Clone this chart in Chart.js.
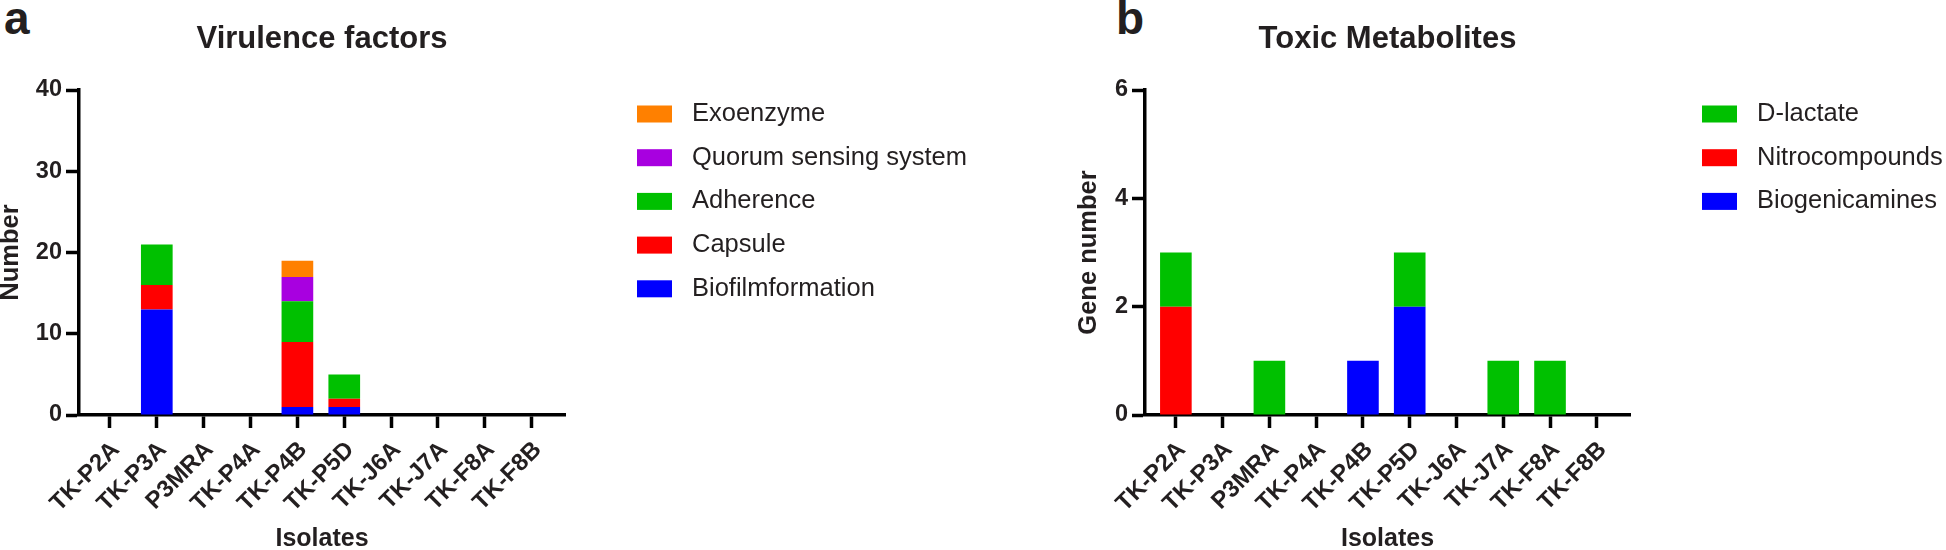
<!DOCTYPE html>
<html>
<head>
<meta charset="utf-8">
<script src="https://cdn.jsdelivr.net/npm/chart.js@4/dist/chart.umd.min.js"></script>
<style>
  body { margin: 0; background: #fff; width: 1946px; height: 550px; position: relative; overflow: hidden; }
  canvas { position: absolute; top: 0; }
  #chartA { left: 0; }
  #chartB { left: 973px; }
  .panel { position: absolute; top: -5px; font: bold 46px "Liberation Sans", Arial, sans-serif; line-height: 46px; color: #231f20; }
</style>
</head>
<body>
<div class="panel" style="left:4px">a</div>
<div class="panel" style="left:1116px">b</div>
<canvas id="chartA" width="1000" height="550"></canvas>
<canvas id="chartB" width="973" height="550"></canvas>
<script>
const isolates = ['TK-P2A', 'TK-P3A', 'P3MRA', 'TK-P4A', 'TK-P4B', 'TK-P5D', 'TK-J6A', 'TK-J7A', 'TK-F8A', 'TK-F8B'];

// panel a, stacked bottom to top
const biofilm   = [0, 13, 0, 0, 1, 1, 0, 0, 0, 0];
const capsule   = [0, 3, 0, 0, 8, 1, 0, 0, 0, 0];
const adherence = [0, 5, 0, 0, 5, 3, 0, 0, 0, 0];
const quorum    = [0, 0, 0, 0, 3, 0, 0, 0, 0, 0];
const exoenzyme = [0, 0, 0, 0, 2, 0, 0, 0, 0, 0];
const ticksA = [0, 10, 20, 30, 40];

// panel b, stacked bottom to top
const biogenic = [0, 0, 0, 0, 1, 2, 0, 0, 0, 0];
const nitro    = [2, 0, 0, 0, 0, 0, 0, 0, 0, 0];
const dlactate = [1, 0, 1, 0, 0, 1, 0, 1, 1, 0];
const ticksB = [0, 2, 4, 6];

const FONT = '"Liberation Sans", Arial, Helvetica, sans-serif';
const INK = '#231f20';

const toPoints = arr => arr.map((v, i) => ({ x: i, y: v }));

// legend drawn to the right of the plot, top item = top of stack
const sideLegend = {
  id: 'sideLegend',
  afterDraw(chart) {
    const { ctx, chartArea } = chart;
    const items = chart.data.datasets.slice().reverse();
    ctx.save();
    ctx.font = '25.5px ' + FONT;
    ctx.textBaseline = 'middle';
    items.forEach((ds, i) => {
      const y = chartArea.top + 24 + i * 43.7;
      ctx.fillStyle = ds.backgroundColor;
      ctx.fillRect(chartArea.right + 72, y - 8.5, 35, 17);
      ctx.fillStyle = INK;
      ctx.fillText(ds.label, chartArea.right + 127, y);
    });
    ctx.restore();
  }
};

function makeChart(id, title, yTitle, datasets, yTicks, pad, yWidth) {
  return new Chart(document.getElementById(id), {
    type: 'bar',
    data: {
      datasets: datasets.map(d => ({
        label: d[0],
        data: toPoints(d[1]),
        backgroundColor: d[2],
        borderWidth: 0,
        categoryPercentage: 1,
        barPercentage: 0.676
      }))
    },
    options: {
      responsive: false,
      animation: false,
      layout: { padding: pad },
      plugins: {
        legend: { display: false },
        tooltip: { enabled: false },
        title: {
          display: true,
          text: title,
          fullSize: false,
          color: INK,
          font: { family: FONT, size: 31, weight: 'bold', lineHeight: 1 },
          padding: { top: 24.3, bottom: 34.7 }
        }
      },
      scales: {
        x: {
          type: 'linear',
          stacked: true,
          offset: false,
          min: -0.66,
          max: 9.71,
          afterFit: s => { s.height = 135; },
          border: { color: '#000', width: 3.5 },
          grid: { offset: false, drawOnChartArea: false, tickLength: 13, tickWidth: 3.5, tickColor: '#000' },
          ticks: {
            stepSize: 1,
            includeBounds: false,
            autoSkip: false,
            minRotation: 45,
            maxRotation: 45,
            padding: 8,
            labelOffset: 6,
            color: INK,
            font: { family: FONT, size: 24, weight: 'bold' },
            callback: v => isolates[Math.round(v)]
          },
          title: {
            display: true,
            text: 'Isolates',
            color: INK,
            font: { family: FONT, size: 25, weight: 'bold', lineHeight: 1 },
            padding: { top: 0, bottom: -2 }
          }
        },
        y: {
          stacked: true,
          min: yTicks[0],
          max: yTicks[yTicks.length - 1],
          afterFit: s => { s.width = yWidth; },
          border: { color: '#000', width: 3.5 },
          grid: { drawOnChartArea: false, tickLength: 13, tickWidth: 3.5, tickColor: '#000' },
          ticks: {
            stepSize: yTicks[1] - yTicks[0],
            padding: 4,
            color: INK,
            font: { family: FONT, size: 23.5, weight: 'bold' }
          },
          title: {
            display: true,
            text: yTitle,
            color: INK,
            font: { family: FONT, size: 25.5, weight: 'bold', lineHeight: 1 },
            padding: { top: -2, bottom: 0 }
          }
        }
      }
    },
    plugins: [sideLegend]
  });
}

makeChart('chartA', 'Virulence factors', 'Number', [
  ['Biofilmformation', biofilm, '#0000ff'],
  ['Capsule', capsule, '#ff0000'],
  ['Adherence', adherence, '#00c000'],
  ['Quorum sensing system', quorum, '#a800e0'],
  ['Exoenzyme', exoenzyme, '#ff8000']
], ticksA, { left: 0, top: 0, right: 435, bottom: 0 }, 79);

makeChart('chartB', 'Toxic Metabolites', 'Gene number', [
  ['Biogenicamines', biogenic, '#0000ff'],
  ['Nitrocompounds', nitro, '#ff0000'],
  ['D-lactate', dlactate, '#00c000']
], ticksB, { left: 105.5, top: 0, right: 316, bottom: 0 }, 66.5);
</script>
</body>
</html>
